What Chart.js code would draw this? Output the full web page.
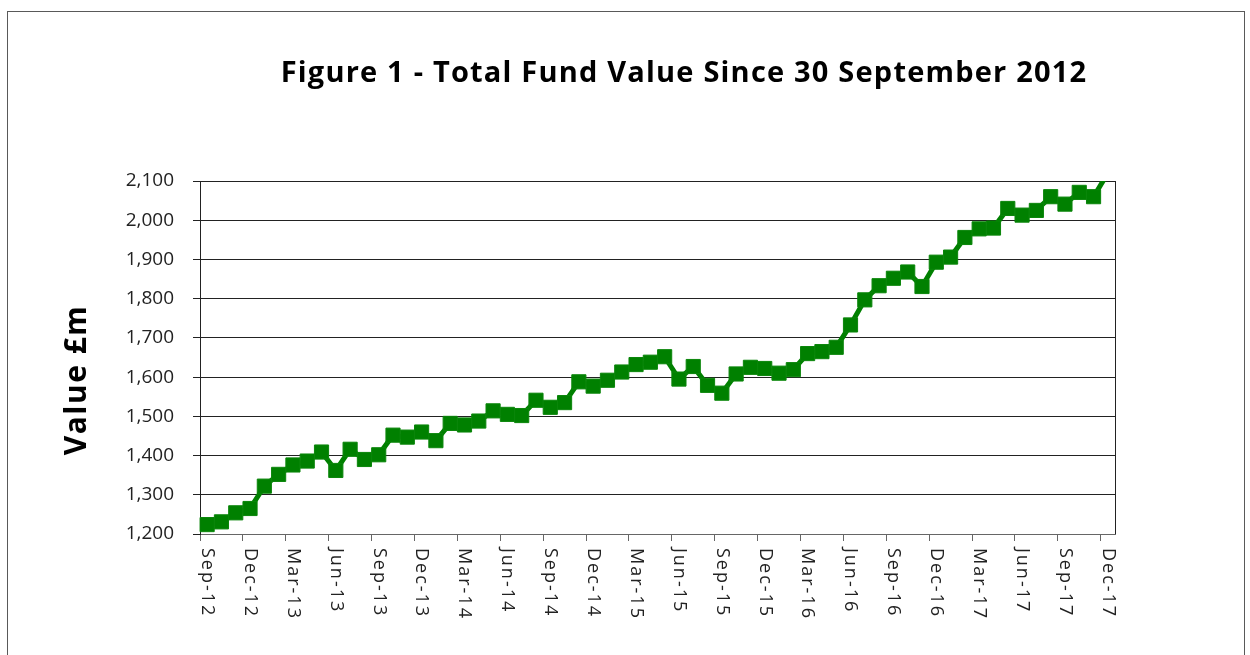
<!DOCTYPE html>
<html>
<head>
<meta charset="utf-8">
<title>Figure 1 - Total Fund Value</title>
<script src="https://cdn.jsdelivr.net/npm/chart.js@4.4.1/dist/chart.umd.min.js"></script>
<style>
    body { margin: 0; background: #fff; }
    #wrap { position: relative; width: 1250px; height: 655px; overflow: hidden; }
    #frame {
        position: absolute; left: 7px; top: 11px;
        width: 1236px; height: 700px;
        border: 1px solid #595959;
    }
    #fundChart { position: absolute; left: 0; top: 0; }
</style>
</head>
<body>
<div id="wrap">
    <div id="frame"></div>
    <canvas id="fundChart" width="1250" height="655"></canvas>
</div>

<script>
// ---------- DATA ----------
const chartTitle = "Figure 1 - Total Fund Value Since 30 September 2012";
const yAxisTitle = "Value £m";

const months = [
    "Sep-12", "Oct-12", "Nov-12", "Dec-12",
    "Jan-13", "Feb-13", "Mar-13", "Apr-13", "May-13", "Jun-13", "Jul-13", "Aug-13", "Sep-13", "Oct-13", "Nov-13", "Dec-13",
    "Jan-14", "Feb-14", "Mar-14", "Apr-14", "May-14", "Jun-14", "Jul-14", "Aug-14", "Sep-14", "Oct-14", "Nov-14", "Dec-14",
    "Jan-15", "Feb-15", "Mar-15", "Apr-15", "May-15", "Jun-15", "Jul-15", "Aug-15", "Sep-15", "Oct-15", "Nov-15", "Dec-15",
    "Jan-16", "Feb-16", "Mar-16", "Apr-16", "May-16", "Jun-16", "Jul-16", "Aug-16", "Sep-16", "Oct-16", "Nov-16", "Dec-16",
    "Jan-17", "Feb-17", "Mar-17", "Apr-17", "May-17", "Jun-17", "Jul-17", "Aug-17", "Sep-17", "Oct-17", "Nov-17", "Dec-17"
];

// fund value, £m
const fundValues = [
    1224, 1231, 1254, 1265,
    1322, 1352, 1376, 1386, 1409, 1362, 1416, 1390, 1402, 1452, 1447, 1460,
    1438, 1482, 1478, 1488, 1514, 1505, 1502, 1541, 1523, 1535, 1588, 1577,
    1592, 1613, 1632, 1638, 1652, 1595, 1627, 1579, 1559, 1608, 1625, 1622,
    1610, 1619, 1660, 1665, 1676, 1733, 1797, 1833, 1852, 1868, 1831, 1893,
    1906, 1956, 1978, 1980, 2030, 2013, 2025, 2060, 2041, 2071, 2060, 2120
];

const yTicks = [1200, 1300, 1400, 1500, 1600, 1700, 1800, 1900, 2000, 2100];
const labelEvery = 3;   // Sep, Dec, Mar, Jun

// ---------- EXTRA DRAWING (titles, rotated month labels, plot frame) ----------
const decorPlugin = {
    id: "decor",
    afterDraw(chart) {
        const ctx = chart.ctx;
        const area = chart.chartArea;
        const xScale = chart.scales.x;

        // right edge of plot area
        ctx.save();
        ctx.strokeStyle = "#222";
        ctx.lineWidth = 1;
        ctx.beginPath();
        ctx.moveTo(Math.round(area.right) + 0.5, area.top);
        ctx.lineTo(Math.round(area.right) + 0.5, area.bottom);
        ctx.stroke();
        ctx.restore();

        // main title
        ctx.save();
        ctx.fillStyle = "#000";
        ctx.font = "bold 29px 'Open Sans'";
        ctx.letterSpacing = "1.2px";
        ctx.textAlign = "center";
        ctx.textBaseline = "alphabetic";
        ctx.fillText(chartTitle, 684, 82);
        ctx.restore();

        // y axis title
        ctx.save();
        ctx.translate(86, 380);
        ctx.rotate(-Math.PI / 2);
        ctx.fillStyle = "#000";
        ctx.font = "bold 30px 'Open Sans'";
        ctx.letterSpacing = "1.5px";
        ctx.textAlign = "center";
        ctx.textBaseline = "alphabetic";
        ctx.fillText(yAxisTitle, 0, 0);
        ctx.restore();

        // month labels, reading top to bottom
        months.forEach((m, i) => {
            if (i % labelEvery !== 0) return;
            const x = xScale.getPixelForValue(i);
            ctx.save();
            ctx.translate(x, area.bottom + 14);
            ctx.rotate(Math.PI / 2);
            ctx.fillStyle = "#222";
            ctx.font = "18px 'Open Sans'";
            ctx.letterSpacing = "2px";
            ctx.textAlign = "left";
            ctx.textBaseline = "middle";
            ctx.fillText(m, 0, 0);
            ctx.restore();
        });
    }
};

// ---------- CHART ----------
function createFundChart() {
    const ctx = document.getElementById("fundChart");

    new Chart(ctx, {
        type: "line",
        data: {
            labels: months,
            datasets: [{
                data: fundValues,
                borderColor: "#008000",
                borderWidth: 5,
                tension: 0,
                pointStyle: "rect",
                pointRadius: 10,
                pointBorderWidth: 1,
                pointBackgroundColor: "#008000",
                pointBorderColor: "#0a860a"
            }]
        },
        options: {
            responsive: false,
            animation: false,
            devicePixelRatio: 1,
            layout: {
                padding: { left: 0, top: 181, right: 135, bottom: 121 }
            },
            plugins: {
                legend: { display: false },
                tooltip: { enabled: false }
            },
            scales: {
                x: {
                    type: "category",
                    offset: true,
                    afterFit: (scale) => { scale.height = 0; },
                    ticks: { display: false, autoSkip: false },
                    grid: {
                        offset: true,
                        drawOnChartArea: false,
                        drawTicks: true,
                        tickLength: 7,
                        color: (c) => (c.index % labelEvery === 0 ? "#666" : "rgba(0,0,0,0)")
                    },
                    border: { display: true, color: "#666", width: 1 }
                },
                y: {
                    min: yTicks[0],
                    max: yTicks[yTicks.length - 1],
                    afterFit: (scale) => { scale.width = 200; },
                    afterBuildTicks: (scale) => {
                        scale.ticks = yTicks.map(v => ({ value: v }));
                    },
                    ticks: {
                        padding: 19,
                        color: "#222",
                        font: { family: "'Open Sans'", size: 19 },
                        callback: (v) => v.toLocaleString("en-US")
                    },
                    grid: {
                        color: "#222",
                        lineWidth: 1,
                        drawTicks: true,
                        tickLength: 7
                    },
                    border: { display: true, color: "#222", width: 1 }
                }
            }
        },
        plugins: [decorPlugin]
    });
}

document.addEventListener("DOMContentLoaded", () => {
    createFundChart();
});
</script>
</body>
</html>
